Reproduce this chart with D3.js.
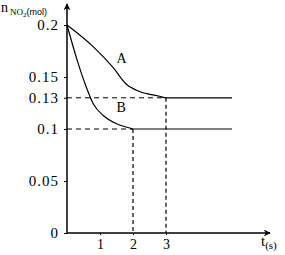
<!DOCTYPE html>
<html>
<head>
<meta charset="utf-8">
<script src="https://cdn.jsdelivr.net/npm/d3@7"></script>
<style>
  body { margin: 0; background: #fff; }
  text { font-family: "Liberation Serif", "DejaVu Serif", serif; fill: #000; }
</style>
</head>
<body>
<div id="chart"></div>
<script>
var width = 285;
var height = 255;
var margin = {top: 25, left: 67, right: 17, bottom: 22};

// curve A
var tA = [0, 0.8, 1.4, 1.8, 2.2, 2.8, 3, 5];
var nA = [0.2, 0.179, 0.159, 0.143, 0.136, 0.1315, 0.13, 0.13];
// curve B
var tB = [0, 0.3, 0.6, 0.8, 1.1, 1.5, 1.9, 2, 5];
var nB = [0.2, 0.167, 0.139, 0.124, 0.113, 0.105, 0.101, 0.1, 0.1];

var yTicks = [0, 0.05, 0.1, 0.13, 0.15, 0.2];
var yTickLabels = ["0", "0.05", "0.1", "0.13", "0.15", "0.2"];
var xTicks = [1, 2, 3];
// where the dashed guides go
var marks = [{t: 3, n: 0.13}, {t: 2, n: 0.1}];

var svg = d3.select("#chart")
  .append("svg")
  .attr("width", width)
  .attr("height", height);

var xScale = d3.scaleLinear()
  .domain([0, 5])
  .range([margin.left, margin.left + 165]);

var yScale = d3.scaleLinear()
  .domain([0, 0.2])
  .range([height - margin.bottom, margin.top]);

var y0 = yScale(0);

// arrowhead
svg.append("defs").append("marker")
  .attr("id", "arrow")
  .attr("viewBox", "0 0 10 10")
  .attr("refX", 9)
  .attr("refY", 5)
  .attr("markerWidth", 7)
  .attr("markerHeight", 7)
  .attr("markerUnits", "userSpaceOnUse")
  .attr("orient", "auto")
  .append("path")
  .attr("d", "M0,0 L10,5 L0,10 L3,5 Z")
  .attr("fill", "#000");

// dashed guides
marks.forEach(function(m) {
  svg.append("line")
    .attr("x1", xScale(0)).attr("x2", xScale(m.t))
    .attr("y1", yScale(m.n)).attr("y2", yScale(m.n))
    .attr("stroke", "#000").attr("stroke-width", 1)
    .attr("stroke-dasharray", "5,4");
  svg.append("line")
    .attr("x1", xScale(m.t)).attr("x2", xScale(m.t))
    .attr("y1", yScale(m.n)).attr("y2", y0)
    .attr("stroke", "#000").attr("stroke-width", 1.2)
    .attr("stroke-dasharray", "4,3");
});

// axes
svg.append("line")
  .attr("x1", xScale(0)).attr("y1", y0)
  .attr("x2", 270).attr("y2", y0)
  .attr("stroke", "#000").attr("stroke-width", 1.5)
  .attr("marker-end", "url(#arrow)");

svg.append("line")
  .attr("x1", xScale(0)).attr("y1", y0)
  .attr("x2", xScale(0)).attr("y2", 4)
  .attr("stroke", "#000").attr("stroke-width", 1.5)
  .attr("marker-end", "url(#arrow)");

var yAxis = svg.append("g")
  .attr("transform", `translate(${xScale(0)},0)`)
  .call(d3.axisLeft(yScale)
    .tickValues(yTicks)
    .tickSize(3)
    .tickFormat(function(d, i) { return yTickLabels[i]; }));
yAxis.select(".domain").remove();
yAxis.selectAll("text")
  .attr("x", -8)
  .style("font-family", "'Liberation Serif', serif")
  .style("font-size", "15px")
  .style("letter-spacing", "1px");

var xAxis = svg.append("g")
  .attr("transform", `translate(0,${y0})`)
  .call(d3.axisBottom(xScale)
    .tickValues(xTicks)
    .tickSize(2)
    .tickFormat(d3.format("d")));
xAxis.select(".domain").remove();
xAxis.selectAll("text")
  .attr("y", 6)
  .style("font-family", "'Liberation Serif', serif")
  .style("font-size", "14px");

// curves
var line = d3.line()
  .x(function(d) { return xScale(d[0]); })
  .y(function(d) { return yScale(d[1]); })
  .curve(d3.curveMonotoneX);

svg.append("path")
  .datum(d3.zip(tA, nA))
  .attr("d", line)
  .attr("fill", "none")
  .attr("stroke", "#000")
  .attr("stroke-width", 1.2);

svg.append("path")
  .datum(d3.zip(tB, nB))
  .attr("d", line)
  .attr("fill", "none")
  .attr("stroke", "#000")
  .attr("stroke-width", 1.2);

// curve labels
svg.append("text")
  .attr("x", xScale(1.5)).attr("y", yScale(0.163))
  .attr("font-size", "14px")
  .text("A");
svg.append("text")
  .attr("x", xScale(1.5)).attr("y", yScale(0.116))
  .attr("font-size", "14px")
  .text("B");

// axis titles
var yTitle = svg.append("text")
  .attr("x", 1).attr("y", 12)
  .attr("font-size", "14px");
yTitle.append("tspan").text("n");
yTitle.append("tspan")
  .attr("font-size", "9px")
  .attr("dx", 2).attr("dy", 3)
  .text("NO");
yTitle.append("tspan")
  .attr("font-size", "7px")
  .attr("dy", 2)
  .text("2");
yTitle.append("tspan")
  .attr("font-size", "9px")
  .attr("dy", -2)
  .attr("font-family", "'Liberation Sans', sans-serif")
  .text("(mol)");

var xTitle = svg.append("text")
  .attr("x", 261).attr("y", 246)
  .attr("font-size", "15px");
xTitle.append("tspan").text("t");
xTitle.append("tspan")
  .attr("font-size", "11px")
  .attr("dy", 3)
  .text("(s)");
</script>
</body>
</html>
